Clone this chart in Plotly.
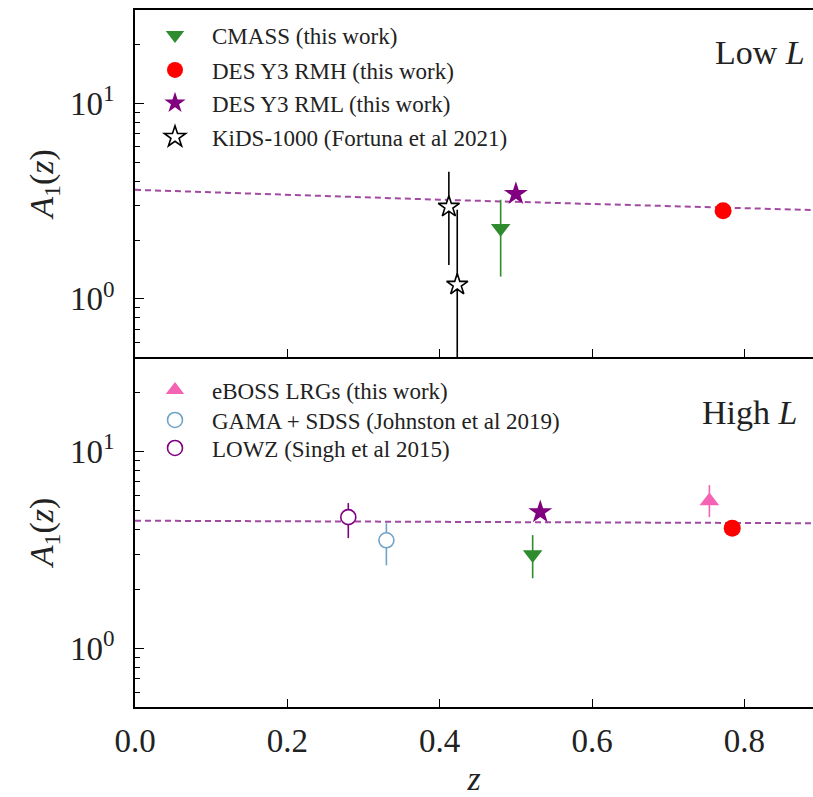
import plotly.graph_objects as go
from plotly.subplots import make_subplots

# ---------------- data ----------------
# Low L panel
line_low_z = [0.0, 0.4, 0.89]
line_low_A = [3.62, 3.22, 2.85]

cmass_low_z = [0.48]
cmass_low_A = [2.30]
cmass_low_up = [0.92]
cmass_low_dn = [1.00]

rmh_low_z = [0.772]
rmh_low_A = [2.83]
rmh_low_err = [0.12]

rml_low_z = [0.50]
rml_low_A = [3.45]
rml_low_err = [0.15]

kids_z = [0.412, 0.423]
kids_A = [2.96, 1.18]
kids_up = [1.52, 1.68]
kids_dn = [1.47, 1.10]

# High L panel
line_high_z = [0.0, 0.4, 0.89]
line_high_A = [4.45, 4.39, 4.32]

eboss_z = [0.754]
eboss_A = [5.60]
eboss_up = [1.15]
eboss_dn = [0.96]

gama_z = [0.33]
gama_A = [3.54]
gama_up = [0.78]
gama_dn = [0.90]

lowz_z = [0.28]
lowz_A = [4.64]
lowz_up = [0.83]
lowz_dn = [1.01]

cmass_high_z = [0.522]
cmass_high_A = [3.00]
cmass_high_up = [0.76]
cmass_high_dn = [0.73]

rml_high_z = [0.532]
rml_high_A = [4.92]
rml_high_err = [0.2]

rmh_high_z = [0.784]
rmh_high_A = [4.08]
rmh_high_err = [0.12]

x_ticks = [0.0, 0.2, 0.4, 0.6, 0.8]
y_ticks = [1, 10]
y_ticktext = ["10<sup>0</sup>", "10<sup>1</sup>"]
y_minor = [0.6, 0.7, 0.8, 0.9, 2, 3, 4, 5, 6, 7, 8, 9, 20, 30]

# ---------------- style ----------------
FONT = "Liberation Serif, DejaVu Serif, serif"
GREEN = "#2e8b2e"
RED = "#ff0000"
PURPLE = "#800080"
PINK = "#f564b4"
LBLUE = "#6fa3c7"
LINE = "#a24aa2"
W, H = 813, 797
ML, MR, MT, MB = 135, 0, 10, 90
PW, PH = W - ML - MR, H - MT - MB

def px_x(px):
    return (px - ML) / PW

def px_y(py):
    return (H - MB - py) / PH

fig = make_subplots(rows=2, cols=1, shared_xaxes=False, vertical_spacing=0.0)

def err(up, dn=None, color="black"):
    d = dict(type="data", array=up, visible=True, color=color, thickness=1.6, width=0)
    if dn is not None:
        d["arrayminus"] = dn
        d["symmetric"] = False
    return d

# lines
fig.add_trace(go.Scatter(x=line_low_z, y=line_low_A, mode="lines",
                         line=dict(color=LINE, width=2, dash="6px,4px"), showlegend=False), row=1, col=1)
fig.add_trace(go.Scatter(x=line_high_z, y=line_high_A, mode="lines",
                         line=dict(color=LINE, width=2, dash="6px,4px"), showlegend=False), row=2, col=1)

# top panel points
fig.add_trace(go.Scatter(x=kids_z, y=kids_A, mode="markers", name="KiDS-1000 (Fortuna et al 2021)",
                         marker=dict(symbol="star", size=16, color="white", line=dict(color="black", width=1.6)),
                         error_y=err(kids_up, kids_dn, "black"), legend="legend4"), row=1, col=1)
fig.add_trace(go.Scatter(x=cmass_low_z, y=cmass_low_A, mode="markers", name="CMASS (this work)",
                         marker=dict(symbol="triangle-down", size=17, color=GREEN),
                         error_y=err(cmass_low_up, cmass_low_dn, GREEN), legend="legend"), row=1, col=1)
fig.add_trace(go.Scatter(x=rmh_low_z, y=rmh_low_A, mode="markers", name="DES Y3 RMH (this work)",
                         marker=dict(symbol="circle", size=17, color=RED),
                         error_y=err(rmh_low_err, None, RED), legend="legend2"), row=1, col=1)
fig.add_trace(go.Scatter(x=rml_low_z, y=rml_low_A, mode="markers", name="DES Y3 RML (this work)",
                         marker=dict(symbol="star", size=18, color=PURPLE),
                         error_y=err(rml_low_err, None, PURPLE), legend="legend3"), row=1, col=1)

# bottom panel points
fig.add_trace(go.Scatter(x=lowz_z, y=lowz_A, mode="markers", name="LOWZ (Singh et al 2015)",
                         marker=dict(symbol="circle", size=15, color="white", line=dict(color=PURPLE, width=1.6)),
                         error_y=err(lowz_up, lowz_dn, PURPLE), legend="legend7"), row=2, col=1)
fig.add_trace(go.Scatter(x=gama_z, y=gama_A, mode="markers", name="GAMA + SDSS (Johnston et al 2019)",
                         marker=dict(symbol="circle", size=15, color="white", line=dict(color=LBLUE, width=1.6)),
                         error_y=err(gama_up, gama_dn, LBLUE), legend="legend6"), row=2, col=1)
fig.add_trace(go.Scatter(x=cmass_high_z, y=cmass_high_A, mode="markers", name="CMASS",
                         marker=dict(symbol="triangle-down", size=17, color=GREEN),
                         error_y=err(cmass_high_up, cmass_high_dn, GREEN), showlegend=False), row=2, col=1)
fig.add_trace(go.Scatter(x=rml_high_z, y=rml_high_A, mode="markers", name="RML",
                         marker=dict(symbol="star", size=18, color=PURPLE),
                         error_y=err(rml_high_err, None, PURPLE), showlegend=False), row=2, col=1)
fig.add_trace(go.Scatter(x=eboss_z, y=eboss_A, mode="markers", name="eBOSS LRGs (this work)",
                         marker=dict(symbol="triangle-up", size=17, color=PINK),
                         error_y=err(eboss_up, eboss_dn, PINK), legend="legend5"), row=2, col=1)
fig.add_trace(go.Scatter(x=rmh_high_z, y=rmh_high_A, mode="markers", name="RMH",
                         marker=dict(symbol="circle", size=17, color=RED),
                         error_y=err(rmh_high_err, None, RED), showlegend=False), row=2, col=1)

split = px_y(357)
ax_common = dict(showline=True, linecolor="black", linewidth=1.5, ticks="inside",
                 tickcolor="black", tickwidth=1.2, showgrid=False, zeroline=False,
                 tickfont=dict(family=FONT, size=33, color="#222"))
fig.update_xaxes(range=[0.0, 0.89], tickvals=x_ticks, tickformat=".1f", ticklen=8, **ax_common)
fig.update_xaxes(showticklabels=False, mirror=True, row=1, col=1)
fig.update_xaxes(ticklabelstandoff=4, mirror=False, row=2, col=1,
                 title=dict(text="<i>z</i>", font=dict(family=FONT, size=34, color="#222"), standoff=10))
fig.update_yaxes(type="log", range=[-0.298, 1.48], tickvals=y_ticks, ticktext=y_ticktext, ticklen=9,
                 mirror=False, ticklabelstandoff=12,
                 minor=dict(tickvals=y_minor, ticks="inside", ticklen=5, tickcolor="black", tickwidth=1.2),
                 title=dict(text="<i>A</i><sub>1</sub>(<i>z</i>)", font=dict(family=FONT, size=34, color="#222"),
                            standoff=6),
                 **ax_common)
fig.update_yaxes(domain=[split, 1.0], row=1, col=1)
fig.update_yaxes(domain=[0.0, split], row=2, col=1)

# legends
leg_base = dict(bgcolor="rgba(0,0,0,0)", borderwidth=0, xanchor="left", yanchor="middle",
                font=dict(family=FONT, size=23, color="#222"), itemwidth=64)
leg_rows = {"legend": 35, "legend2": 70, "legend3": 103, "legend4": 137,
            "legend5": 390, "legend6": 420, "legend7": 448}
legends = {k: dict(leg_base, x=px_x(138), y=px_y(v)) for k, v in leg_rows.items()}

fig.update_layout(
    width=W, height=H, margin=dict(l=ML, r=MR, t=MT, b=MB),
    paper_bgcolor="white", plot_bgcolor="white",
    font=dict(family=FONT, color="#222"),
    **legends,
    annotations=[
        dict(text="Low <i>L</i>", x=px_x(807), y=px_y(53), xref="paper", yref="paper",
             xanchor="right", yanchor="middle", showarrow=False, font=dict(family=FONT, size=34, color="#222")),
        dict(text="High <i>L</i>", x=px_x(799), y=px_y(412), xref="paper", yref="paper",
             xanchor="right", yanchor="middle", showarrow=False, font=dict(family=FONT, size=34, color="#222")),
    ],
)

fig.write_html("out.html")
